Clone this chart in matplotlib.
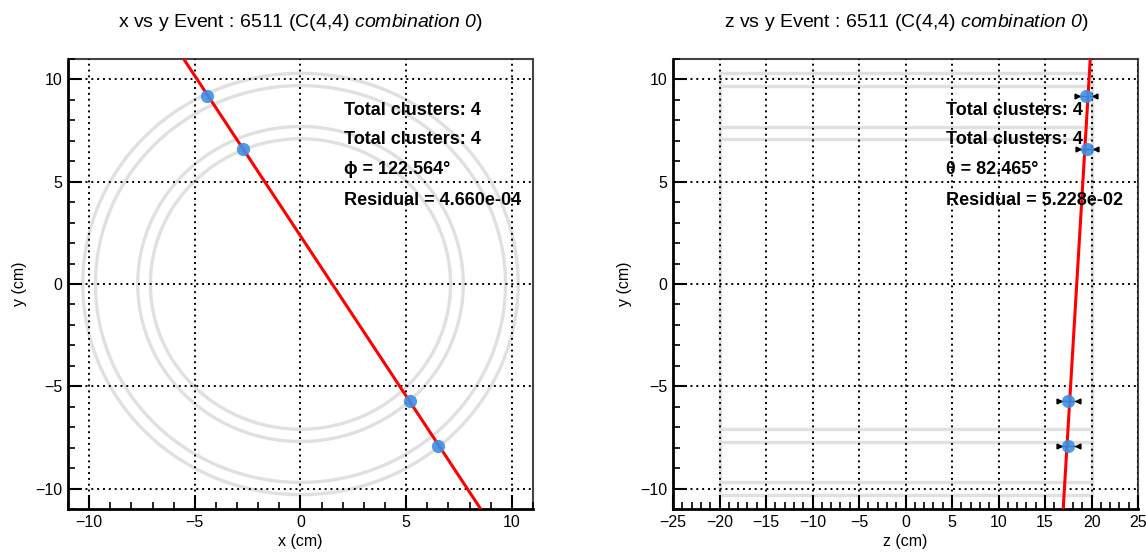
import numpy as np
import matplotlib
matplotlib.use('Agg')
import matplotlib.pyplot as plt
from matplotlib.ticker import MultipleLocator

plt.rcParams['font.family'] = ['Liberation Sans', 'DejaVu Sans']
plt.rcParams['mathtext.fontset'] = 'custom'
plt.rcParams['mathtext.rm'] = 'Liberation Sans'
plt.rcParams['mathtext.it'] = 'Liberation Sans:italic'
plt.rcParams['mathtext.sf'] = 'Liberation Sans:italic'

# cluster positions (cm)
x_clu = [-4.4, -2.7, 5.2, 6.5]
y_clu = [9.2, 6.6, -5.7, -7.9]
z_clu = [19.4, 19.5, 17.5, 17.5]
z_err = [1.0, 1.0, 1.0, 1.0]

# detector layer radii (cm) and half length
layer_r = [7.1, 7.7, 9.7, 10.3]
half_len = 20.0

phi_deg = 122.564
theta_deg = 82.465
residual_xy = '4.660e-04'
residual_zy = '5.228e-02'
n_clusters = 4

fig = plt.figure(figsize=(11.46, 5.52), dpi=100)
ax1 = fig.add_axes([0.0593, 0.0779, 0.4058, 0.8152])
ax2 = fig.add_axes([0.5873, 0.0779, 0.4058, 0.8152])

layer_col = '#e0e0e0'
pt_col = '#3d8fe6'


def style_axes(ax, xlim, ylim):
    ax.set_xlim(*xlim)
    ax.set_ylim(*ylim)
    ax.xaxis.set_major_locator(MultipleLocator(5))
    ax.xaxis.set_minor_locator(MultipleLocator(1))
    ax.yaxis.set_major_locator(MultipleLocator(5))
    ax.yaxis.set_minor_locator(MultipleLocator(1))
    ax.tick_params(which='major', direction='in', length=10, width=1.5, labelsize=11.5, pad=4)
    ax.tick_params(which='minor', direction='in', length=5, width=1.2)
    ax.grid(True, which='major', color='black', linestyle=(0, (1, 2)), linewidth=1.4)
    ax.set_axisbelow(False)
    for side in ['left', 'bottom']:
        ax.spines[side].set_linewidth(2.0)
    for side in ['top', 'right']:
        ax.spines[side].set_linewidth(1.5)
        ax.spines[side].set_color('#444444')
    ax.set_ylabel('y (cm)', fontsize=11.5, labelpad=6)


# ---- x vs y ----
th = np.linspace(0, 2 * np.pi, 400)
for r in layer_r:
    ax1.plot(r * np.cos(th), r * np.sin(th), color=layer_col, lw=2.4, zorder=1)

xm, ym = np.mean(x_clu), np.mean(y_clu)
xl = np.array([-11, 11])
ax1.plot(xl, ym + np.tan(np.radians(phi_deg)) * (xl - xm), color='red', lw=2.2, zorder=3)
ax1.plot(x_clu, y_clu, 'o', color=pt_col, ms=9.5, alpha=0.9, mec='none', zorder=4)

style_axes(ax1, (-11, 11), (-11, 11))
ax1.set_xlabel('x (cm)', fontsize=11.5, labelpad=3)

txt_y = [8.5, 7.05, 5.6, 4.1]
labels1 = [f'Total clusters: {n_clusters}', f'Total clusters: {n_clusters}',
           f'ϕ = {phi_deg:.3f}°', f'Residual = {residual_xy}']
for yy, s in zip(txt_y, labels1):
    ax1.text(2.05, yy, s, fontsize=13, fontweight='bold', va='center', ha='left', zorder=5)

# ---- z vs y ----
for r in layer_r:
    for s in (1, -1):
        ax2.plot([-half_len, half_len], [s * r, s * r], color=layer_col, lw=2.4, zorder=1)
for zz in (-half_len, half_len):
    ax2.plot([zz, zz], [-layer_r[-1], layer_r[-1]], color=layer_col, lw=2.4, zorder=1)

zm = np.mean(z_clu)
yl = np.array([-11, 11])
ax2.plot(zm + (yl - ym) / np.tan(np.radians(theta_deg)), yl, color='red', lw=2.2, zorder=3)
ax2.errorbar(z_clu, y_clu, xerr=z_err, fmt='none', ecolor='black', elinewidth=1.0, zorder=4)
ax2.plot(np.array(z_clu) - np.array(z_err), y_clu, '>', color='black', ms=3.5, zorder=4)
ax2.plot(np.array(z_clu) + np.array(z_err), y_clu, '<', color='black', ms=3.5, zorder=4)
ax2.plot(z_clu, y_clu, 'o', color=pt_col, ms=9.5, alpha=0.9, mec='none', zorder=4)

style_axes(ax2, (-25, 25), (-11, 11))
ax2.set_xlabel('z (cm)', fontsize=11.5, labelpad=3)

labels2 = [f'Total clusters: {n_clusters}', f'Total clusters: {n_clusters}',
           f'θ = {theta_deg:.3f}°', f'Residual = {residual_zy}']
for yy, s in zip(txt_y, labels2):
    ax2.text(4.4, yy, s, fontsize=13, fontweight='bold', va='center', ha='left', zorder=5)

fig.text(0.262, 0.960, r'x vs y Event : 6511 (C(4,4) $\mathsf{combination\ 0}$)',
         fontsize=14, ha='center', va='center')
fig.text(0.791, 0.960, r'z vs y Event : 6511 (C(4,4) $\mathsf{combination\ 0}$)',
         fontsize=14, ha='center', va='center')

fig.savefig('out.png', dpi=100)
plt.close(fig)
